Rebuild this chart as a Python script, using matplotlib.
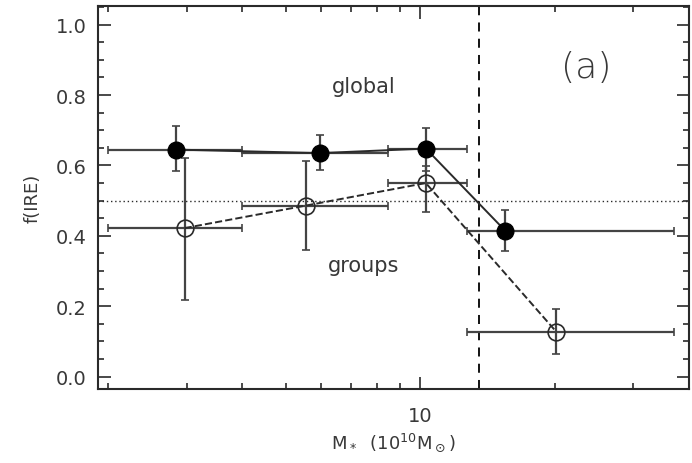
import matplotlib
matplotlib.use('Agg')
import matplotlib.pyplot as plt
from matplotlib.ticker import FixedLocator, LogLocator, NullFormatter, MultipleLocator

plt.rcParams['font.family'] = 'DejaVu Sans'
plt.rcParams['font.size'] = 13

# global sample (filled circles)
glob_x = [2.84, 5.97, 10.3, 15.5]
glob_y = [0.645, 0.635, 0.648, 0.415]
glob_xlo = [2.0, 4.0, 8.48, 12.75]
glob_xhi = [4.0, 8.48, 12.75, 37.0]
glob_ylo = [0.585, 0.586, 0.585, 0.356]
glob_yhi = [0.711, 0.687, 0.706, 0.474]

# groups sample (open circles)
grp_x = [2.97, 5.55, 10.3, 20.2]
grp_y = [0.422, 0.486, 0.550, 0.127]
grp_xlo = [2.0, 4.0, 8.48, 12.75]
grp_xhi = [4.0, 8.48, 12.75, 37.0]
grp_ylo = [0.219, 0.361, 0.467, 0.063]
grp_yhi = [0.621, 0.614, 0.597, 0.193]

mass_cut = 13.55
half_line = 0.5

ink = '#2a2a2a'
txt = '#383838'

fig = plt.figure(figsize=(6.92, 4.64), dpi=100)
ax = fig.add_axes([0.1416, 0.1595, 0.854, 0.8255])
ax.set_xscale('log')


def errs(c, lo, hi):
    return [[v - l for v, l in zip(c, lo)], [h - v for v, h in zip(c, hi)]]


ax.errorbar(glob_x, glob_y, xerr=errs(glob_x, glob_xlo, glob_xhi),
            yerr=errs(glob_y, glob_ylo, glob_yhi), fmt='o-', color=ink,
            ecolor='#444444', elinewidth=1.6, capsize=3, capthick=1.2,
            ms=12, mfc='black', mec='black', lw=1.4, zorder=3)
ax.errorbar(grp_x, grp_y, xerr=errs(grp_x, grp_xlo, grp_xhi),
            yerr=errs(grp_y, grp_ylo, grp_yhi), fmt='o--', color=ink,
            ecolor='#444444', elinewidth=1.6, capsize=3, capthick=1.2,
            ms=12, mfc='none', mec=ink, mew=1.2, lw=1.4, zorder=3)

ax.axhline(half_line, color=ink, ls=(0, (1, 2)), lw=1.0)
ax.axvline(mass_cut, color='black', ls=(0, (5, 4)), lw=1.3)

ax.text(0.45, 0.79, 'global', transform=ax.transAxes, ha='center', va='center',
        fontsize=15, color=txt)
ax.text(0.45, 0.325, 'groups', transform=ax.transAxes, ha='center', va='center',
        fontsize=15, color=txt)
ax.text(0.827, 0.84, '(a)', transform=ax.transAxes, ha='center', va='center',
        fontsize=26, color=txt, fontweight='light')

ax.set_xlim(1.9, 40)
ax.set_ylim(-0.035, 1.053)
ax.xaxis.set_major_locator(FixedLocator([10]))
ax.set_xticklabels(['10'])
ax.xaxis.set_minor_locator(LogLocator(base=10, subs=range(2, 10)))
ax.xaxis.set_minor_formatter(NullFormatter())
ax.yaxis.set_major_locator(MultipleLocator(0.2))
ax.yaxis.set_minor_locator(MultipleLocator(0.05))
ax.tick_params(which='both', direction='in', top=True, right=True, colors=ink,
               labelcolor=txt, labelsize=14)
ax.tick_params(which='major', length=9, width=1.2, pad=8)
ax.tick_params(axis='x', which='major', pad=12)
ax.tick_params(which='minor', length=4.5, width=1.2)
for s in ax.spines.values():
    s.set_linewidth(1.5)
    s.set_color(ink)

ax.set_ylabel('f(IRE)', color=txt, fontsize=13, labelpad=10)
ax.set_xlabel(r'M$_*$  (10$^{10}$M$_\odot$)', color=txt, fontsize=13, labelpad=4)

fig.savefig('out.png', dpi=100)
